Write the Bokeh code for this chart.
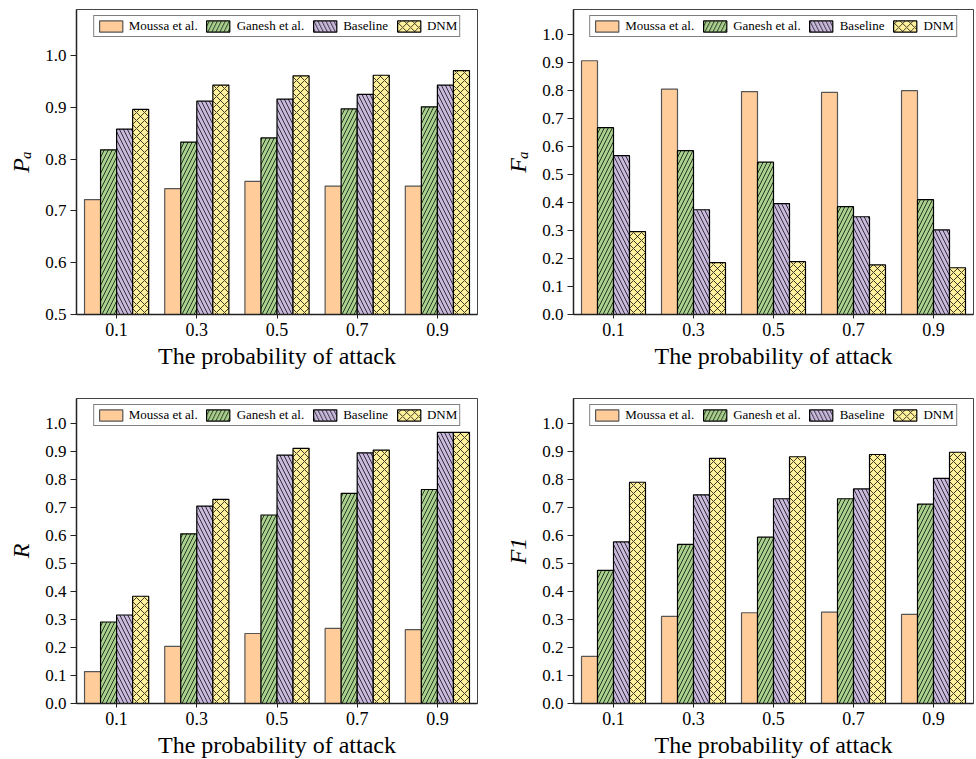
from bokeh.plotting import figure
from bokeh.layouts import row, column
from bokeh.models import ColumnDataSource, FixedTicker, Range1d, PrintfTickFormatter
from bokeh.transform import dodge
from bokeh.embed import file_html
from bokeh.resources import INLINE

# Attack probabilities on the x axis
attack_prob = [0.1, 0.3, 0.5, 0.7, 0.9]
x_tick_labels = ["0.1", "0.3", "0.5", "0.7", "0.9"]

methods = ["Moussa et al.", "Ganesh et al.", "Baseline", "DNM"]

# Precision P_a
pa_moussa = [0.722, 0.743, 0.757, 0.748, 0.748]
pa_ganesh = [0.818, 0.833, 0.841, 0.897, 0.901]
pa_baseline = [0.858, 0.912, 0.916, 0.925, 0.943]
pa_dnm = [0.896, 0.943, 0.961, 0.962, 0.971]

# False alarm rate F_a
fa_moussa = [0.906, 0.805, 0.796, 0.793, 0.799]
fa_ganesh = [0.667, 0.585, 0.544, 0.385, 0.410]
fa_baseline = [0.567, 0.374, 0.396, 0.349, 0.302]
fa_dnm = [0.296, 0.185, 0.189, 0.177, 0.167]

# Recall R
r_moussa = [0.114, 0.204, 0.250, 0.268, 0.264]
r_ganesh = [0.291, 0.606, 0.673, 0.750, 0.764]
r_baseline = [0.316, 0.705, 0.887, 0.895, 0.968]
r_dnm = [0.383, 0.729, 0.911, 0.905, 0.968]

# F1 score
f1_moussa = [0.168, 0.311, 0.324, 0.326, 0.318]
f1_ganesh = [0.475, 0.568, 0.594, 0.731, 0.712]
f1_baseline = [0.577, 0.745, 0.731, 0.766, 0.804]
f1_dnm = [0.790, 0.875, 0.881, 0.889, 0.897]

pa_ticks = [0.5, 0.6, 0.7, 0.8, 0.9, 1.0]
unit_ticks = [0.0, 0.1, 0.2, 0.3, 0.4, 0.5, 0.6, 0.7, 0.8, 0.9, 1.0]

SERIF = "'Liberation Serif', serif"

styles = [
    dict(fill_color="#FFCC9A", line_color="#555555", hatch_pattern=" "),
    dict(fill_color="#A9D18E", line_color="black", hatch_pattern="right_diagonal_line"),
    dict(fill_color="#C9B9DD", line_color="black", hatch_pattern="left_diagonal_line"),
    dict(fill_color="#FFF09C", line_color="black", hatch_pattern="diagonal_cross"),
]
offsets = [-0.06, -0.02, 0.02, 0.06]


def make_panel(series, ylabel, y_start, y_ticks, border_left, border_right,
               border_top, border_bottom, frame_w):
    src = ColumnDataSource(dict(
        x=attack_prob, m0=series[0], m1=series[1], m2=series[2], m3=series[3]))
    p = figure(frame_width=frame_w, frame_height=305,
               x_range=Range1d(0.0, 1.0), y_range=Range1d(y_start, 1.089),
               output_backend="svg", toolbar_location=None,
               min_border_left=border_left, min_border_right=border_right,
               min_border_top=border_top, min_border_bottom=border_bottom)
    for i, (name, st, off) in enumerate(zip(methods, styles, offsets)):
        p.vbar(x=dodge("x", off), top=f"m{i}", bottom=y_start, width=0.04,
               source=src, fill_color=st["fill_color"], line_color=st["line_color"],
               line_width=1.2, hatch_pattern=st["hatch_pattern"],
               hatch_color="black", hatch_scale=8, hatch_weight=0.75,
               legend_label=name)

    p.xgrid.visible = False
    p.ygrid.visible = False
    p.outline_line_color = "#444444"
    p.outline_line_width = 1
    p.background_fill_color = "white"
    p.border_fill_color = "white"

    p.xaxis.ticker = FixedTicker(ticks=attack_prob)
    p.xaxis.major_label_overrides = {t: s for t, s in zip(attack_prob, x_tick_labels)}
    p.yaxis.ticker = FixedTicker(ticks=y_ticks)
    p.yaxis.formatter = PrintfTickFormatter(format="%.1f")

    for ax in (p.xaxis[0], p.yaxis[0]):
        ax.axis_line_color = "#222222"
        ax.axis_line_width = 1.5
        ax.major_tick_line_color = "#222222"
        ax.major_tick_in = 0
        ax.minor_tick_line_color = None
        ax.major_label_text_font = SERIF
        ax.major_label_text_color = "black"
        ax.axis_label_text_font = SERIF
        ax.axis_label_text_color = "black"
        ax.axis_label_text_font_size = "24px"

    p.xaxis.major_tick_out = 4
    p.xaxis.major_label_standoff = 4
    p.xaxis.major_label_text_font_size = "18px"
    p.xaxis.axis_label = "The probability of attack"
    p.xaxis.axis_label_text_font_style = "normal"
    p.xaxis.axis_label_standoff = 4

    p.yaxis.major_tick_out = 6
    p.yaxis.major_label_standoff = 4
    p.yaxis.major_label_text_font_size = "17px"
    p.yaxis.axis_label = ylabel
    p.yaxis.axis_label_text_font_style = "italic"
    p.yaxis.axis_label_standoff = 8

    p.legend.orientation = "horizontal"
    p.legend.location = "top_center"
    p.legend.margin = 6
    p.legend.padding = 2
    p.legend.spacing = 6
    p.legend.label_standoff = 4
    p.legend.glyph_width = 29
    p.legend.glyph_height = 14
    p.legend.label_height = 14
    p.legend.label_text_font = SERIF
    p.legend.label_text_font_style = "normal"
    p.legend.label_text_font_size = "13px"
    p.legend.label_text_color = "black"
    p.legend.label_text_line_height = 1.0
    p.legend.border_line_color = "black"
    p.legend.border_line_width = 1
    p.legend.background_fill_alpha = 1.0
    return p


p_pa = make_panel([pa_moussa, pa_ganesh, pa_baseline, pa_dnm], "Pₐ", 0.5, pa_ticks,
                  76, 20, 9, 75, 401)
p_fa = make_panel([fa_moussa, fa_ganesh, fa_baseline, fa_dnm], "Fₐ", 0.0, unit_ticks,
                  76, 3, 9, 75, 400)
p_r = make_panel([r_moussa, r_ganesh, r_baseline, r_dnm], "R", 0.0, unit_ticks,
                 76, 20, 9, 56, 401)
p_f1 = make_panel([f1_moussa, f1_ganesh, f1_baseline, f1_dnm], "F1", 0.0, unit_ticks,
                  76, 3, 9, 56, 400)

layout = row(column(p_pa, p_r), column(p_fa, p_f1))

open("out.html", "w").write(file_html(layout, INLINE))
